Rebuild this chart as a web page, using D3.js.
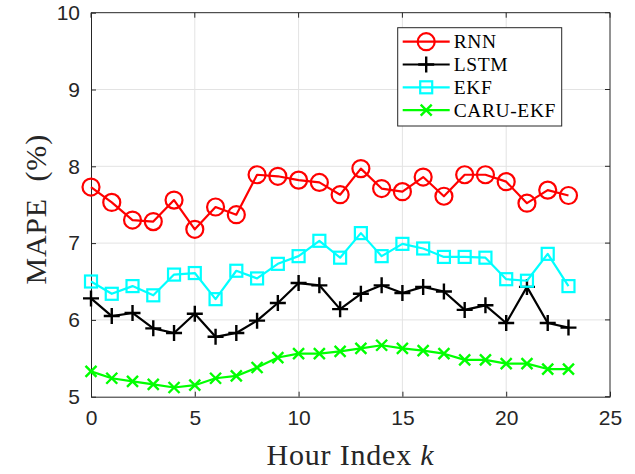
<!DOCTYPE html>
<html>
<head>
<meta charset="utf-8">
<script src="https://cdn.jsdelivr.net/npm/d3@7"></script>
<style>
  body { margin: 0; background: #fff; }
  svg { display: block; }
</style>
</head>
<body>
<div id="chart"></div>
<script>
// hour index 0..23
const hours = d3.range(0, 24);

// MAPE (%)
const rnn  = [7.73, 7.53, 7.30, 7.28, 7.56, 7.18, 7.47, 7.37, 7.89, 7.87, 7.82, 7.79,
              7.63, 7.97, 7.71, 7.67, 7.86, 7.61, 7.89, 7.89, 7.80, 7.52, 7.69, 7.62];
const lstm = [6.28, 6.05, 6.09, 5.89, 5.83, 6.08, 5.78, 5.83, 5.99, 6.22, 6.48, 6.45,
              6.14, 6.34, 6.45, 6.35, 6.43, 6.37, 6.13, 6.19, 5.96, 6.43, 5.96, 5.90];
const ekf  = [6.50, 6.34, 6.44, 6.32, 6.59, 6.61, 6.27, 6.64, 6.54, 6.73, 6.83, 7.03,
              6.81, 7.13, 6.83, 6.99, 6.93, 6.82, 6.82, 6.81, 6.53, 6.51, 6.86, 6.44];
const caru = [5.33, 5.24, 5.20, 5.16, 5.12, 5.15, 5.24, 5.27, 5.38, 5.51, 5.56, 5.56,
              5.59, 5.63, 5.67, 5.63, 5.60, 5.56, 5.48, 5.48, 5.43, 5.43, 5.36, 5.36];

const xTicks = [0, 5, 10, 15, 20, 25];
const yTicks = [5, 6, 7, 8, 9, 10];

const series = [
    { name: "RNN",      values: rnn,  color: "#ff0000", marker: "circle" },
    { name: "LSTM",     values: lstm, color: "#000000", marker: "plus" },
    { name: "EKF",      values: ekf,  color: "#00ffff", marker: "square" },
    { name: "CARU-EKF", values: caru, color: "#00ff00", marker: "cross" }
];

const width = 635, height = 474;
const margin = { left: 91, right: 25, top: 12.7, bottom: 77.3 };
const serif = "'Liberation Serif', 'Times New Roman', serif";

const svg = d3.select("#chart")
    .append("svg")
    .attr("width", width)
    .attr("height", height);

const x = d3.scaleLinear().domain([0, 25]).range([margin.left, width - margin.right]);
const y = d3.scaleLinear().domain([5, 10]).range([height - margin.bottom, margin.top]);

// grid
const grid = svg.append("g");
grid.selectAll("line.vx")
    .data(xTicks.slice(1, -1))
    .enter().append("line")
    .attr("x1", d => x(d)).attr("x2", d => x(d))
    .attr("y1", y(5)).attr("y2", y(10))
    .attr("stroke", "#e3e3e3").attr("stroke-width", 1);
grid.selectAll("line.hy")
    .data(yTicks.slice(1, -1))
    .enter().append("line")
    .attr("x1", x(0)).attr("x2", x(25))
    .attr("y1", d => y(d)).attr("y2", d => y(d))
    .attr("stroke", "#e3e3e3").attr("stroke-width", 1);

// axes
const axisColor = "#262626";
const xAxis = svg.append("g")
    .attr("transform", `translate(0,${y(5)})`)
    .call(d3.axisBottom(x).tickValues(xTicks).tickFormat(d3.format("d"))
        .tickSizeInner(-5).tickSizeOuter(0).tickPadding(13));
const yAxis = svg.append("g")
    .attr("transform", `translate(${x(0)},0)`)
    .call(d3.axisLeft(y).tickValues(yTicks).tickFormat(d3.format("d"))
        .tickSizeInner(-5).tickSizeOuter(0).tickPadding(11));

[xAxis, yAxis].forEach(a => {
    a.select(".domain").attr("stroke", axisColor).attr("stroke-width", 1);
    a.selectAll(".tick line").attr("stroke", axisColor);
    a.selectAll("text")
        .attr("fill", "#262626")
        .style("font-family", "'Liberation Sans', Arial, sans-serif")
        .style("font-size", "21px");
});

// top & right box lines
svg.append("line")
    .attr("x1", x(0)).attr("x2", x(25)).attr("y1", y(10)).attr("y2", y(10))
    .attr("stroke", axisColor);
svg.append("line")
    .attr("x1", x(25)).attr("x2", x(25)).attr("y1", y(10)).attr("y2", y(5))
    .attr("stroke", axisColor);
svg.selectAll("line.rt")
    .data(yTicks)
    .enter().append("line")
    .attr("x1", x(25)).attr("x2", x(25) - 5)
    .attr("y1", d => y(d)).attr("y2", d => y(d))
    .attr("stroke", axisColor);
svg.selectAll("line.tt")
    .data(xTicks)
    .enter().append("line")
    .attr("x1", d => x(d)).attr("x2", d => x(d))
    .attr("y1", y(10)).attr("y2", y(10) + 5)
    .attr("stroke", axisColor);

// marker drawing
function drawMarker(sel, type, color) {
    if (type === "circle") {
        sel.append("circle").attr("r", 8.5)
            .attr("fill", "none").attr("stroke", color).attr("stroke-width", 2.2);
    } else if (type === "square") {
        sel.append("rect").attr("x", -6).attr("y", -6).attr("width", 12).attr("height", 12)
            .attr("fill", "none").attr("stroke", color).attr("stroke-width", 2.2);
    } else if (type === "plus") {
        sel.append("path").attr("d", "M-8,0H8M0,-8V8")
            .attr("stroke", color).attr("stroke-width", 2.4);
    } else if (type === "cross") {
        sel.append("path").attr("d", "M-5.5,-5.5L5.5,5.5M-5.5,5.5L5.5,-5.5")
            .attr("stroke", color).attr("stroke-width", 2.4);
    }
}

const line = d3.line().x((d, i) => x(hours[i])).y(d => y(d));

series.forEach(s => {
    const g = svg.append("g");
    g.append("path")
        .datum(s.values)
        .attr("d", line)
        .attr("fill", "none")
        .attr("stroke", s.color)
        .attr("stroke-width", 2.2)
        .attr("stroke-linejoin", "round");
    g.selectAll("g.pt")
        .data(s.values)
        .enter().append("g")
        .attr("transform", (d, i) => `translate(${x(hours[i])},${y(d)})`)
        .each(function () { drawMarker(d3.select(this), s.marker, s.color); });
});

// axis titles
svg.append("text")
    .attr("x", x(12.5)).attr("y", 465)
    .attr("text-anchor", "middle")
    .attr("fill", "#262626")
    .style("font-family", serif)
    .style("font-size", "30px")
    .style("letter-spacing", "0.8px")
    .html("Hour Index <tspan font-style='italic'>k</tspan>");

svg.append("text")
    .attr("transform", `translate(46,${y(7.44)}) rotate(-90)`)
    .attr("text-anchor", "middle")
    .attr("fill", "#262626")
    .style("font-family", serif)
    .style("font-size", "30px")
    .style("letter-spacing", "0.8px")
    .style("white-space", "pre")
    .text("MAPE  (%)");

// legend
const legend = svg.append("g").attr("transform", "translate(397.7,27.7)");
legend.append("rect")
    .attr("width", 164).attr("height", 98.3)
    .attr("fill", "#fff").attr("stroke", "#262626").attr("stroke-width", 1);
series.forEach((s, i) => {
    const row = legend.append("g").attr("transform", `translate(0,${14 + i * 22.8})`);
    row.append("line")
        .attr("x1", 5).attr("x2", 52)
        .attr("stroke", s.color).attr("stroke-width", 2.2);
    const m = row.append("g").attr("transform", "translate(28.5,0)");
    drawMarker(m, s.marker, s.color);
    row.append("text")
        .attr("x", 56).attr("y", 6.5)
        .attr("fill", "#000")
        .style("font-family", serif)
        .style("font-size", "19.5px")
        .style("letter-spacing", "0.6px")
        .text(s.name);
});
</script>
</body>
</html>
